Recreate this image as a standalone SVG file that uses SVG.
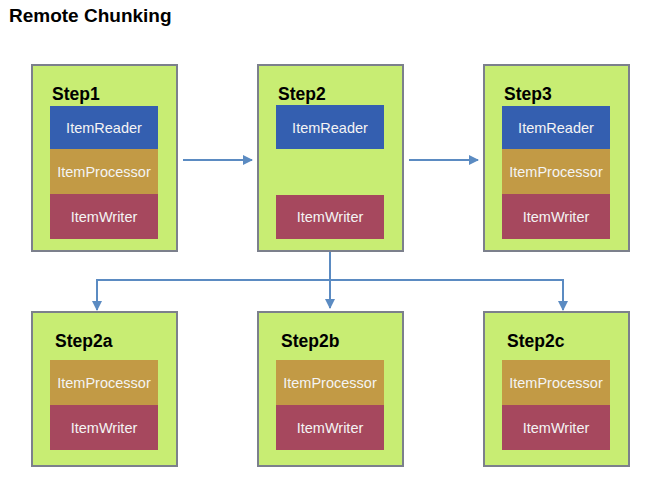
<svg xmlns="http://www.w3.org/2000/svg" width="671" height="482" viewBox="0 0 671 482">
<style>
.step{fill:#c8ed73;stroke:#7c808c;stroke-width:2}
.lbl{font-family:"Liberation Sans",Arial,sans-serif;font-weight:bold;font-size:17.5px;fill:#000}
.in{font-family:"Liberation Sans",Arial,sans-serif;font-size:14.5px;fill:#f4f4f4;text-anchor:middle}
.rd{fill:#345fb0}
.pr{fill:#c29a45}
.wr{fill:#a6485e}
.con{fill:none;stroke:#5b8bc2;stroke-width:2}
</style>
<defs>
<marker id="ah" markerWidth="10" markerHeight="10" refX="9" refY="5" orient="auto" markerUnits="userSpaceOnUse">
<path d="M0,0 L10,5 L0,10 z" fill="#5b8bc2"/>
</marker>
</defs>
<rect width="671" height="482" fill="#fff"/>
<text x="9" y="22" font-family="Liberation Sans,Arial,sans-serif" font-weight="bold" font-size="19" fill="#000">Remote Chunking</text>
<g id="connectors">
<line class="con" x1="183" y1="160" x2="252" y2="160" marker-end="url(#ah)"/>
<line class="con" x1="409" y1="160" x2="478" y2="160" marker-end="url(#ah)"/>
<line class="con" x1="330" y1="251" x2="330" y2="308" marker-end="url(#ah)"/>
<path class="con" d="M97,308 V280 H563 V308" />
<line class="con" x1="97" y1="290" x2="97" y2="310" marker-end="url(#ah)"/>
<line class="con" x1="563" y1="290" x2="563" y2="310" marker-end="url(#ah)"/>
</g>
<g id="step1">
<rect class="step" x="32" y="65" width="145" height="186"/>
<text class="lbl" x="52" y="100">Step1</text>
<rect class="rd" x="50" y="106" width="108" height="43"/>
<rect class="pr" x="50" y="149" width="108" height="45"/>
<rect class="wr" x="50" y="194" width="108" height="45"/>
<text class="in" x="104" y="133">ItemReader</text>
<text class="in" x="104" y="177">ItemProcessor</text>
<text class="in" x="104" y="222">ItemWriter</text>
</g>
<g id="step2">
<rect class="step" x="258" y="65" width="145" height="186"/>
<text class="lbl" x="278" y="100">Step2</text>
<rect class="rd" x="276" y="105" width="108" height="44"/>
<rect class="wr" x="276" y="195" width="108" height="44"/>
<text class="in" x="330" y="133">ItemReader</text>
<text class="in" x="330" y="222">ItemWriter</text>
</g>
<g id="step3">
<rect class="step" x="484" y="65" width="145" height="186"/>
<text class="lbl" x="504" y="100">Step3</text>
<rect class="rd" x="502" y="106" width="108" height="43"/>
<rect class="pr" x="502" y="149" width="108" height="45"/>
<rect class="wr" x="502" y="194" width="108" height="45"/>
<text class="in" x="556" y="133">ItemReader</text>
<text class="in" x="556" y="177">ItemProcessor</text>
<text class="in" x="556" y="222">ItemWriter</text>
</g>
<g id="step2a">
<rect class="step" x="32" y="312" width="145" height="154"/>
<text class="lbl" x="55" y="347">Step2a</text>
<rect class="pr" x="50" y="360" width="108" height="45"/>
<rect class="wr" x="50" y="405" width="108" height="45"/>
<text class="in" x="104" y="388">ItemProcessor</text>
<text class="in" x="104" y="433">ItemWriter</text>
</g>
<g id="step2b">
<rect class="step" x="258" y="312" width="145" height="154"/>
<text class="lbl" x="281" y="347">Step2b</text>
<rect class="pr" x="276" y="360" width="108" height="45"/>
<rect class="wr" x="276" y="405" width="108" height="45"/>
<text class="in" x="330" y="388">ItemProcessor</text>
<text class="in" x="330" y="433">ItemWriter</text>
</g>
<g id="step2c">
<rect class="step" x="484" y="312" width="145" height="154"/>
<text class="lbl" x="507" y="347">Step2c</text>
<rect class="pr" x="502" y="360" width="108" height="45"/>
<rect class="wr" x="502" y="405" width="108" height="45"/>
<text class="in" x="556" y="388">ItemProcessor</text>
<text class="in" x="556" y="433">ItemWriter</text>
</g>
</svg>
